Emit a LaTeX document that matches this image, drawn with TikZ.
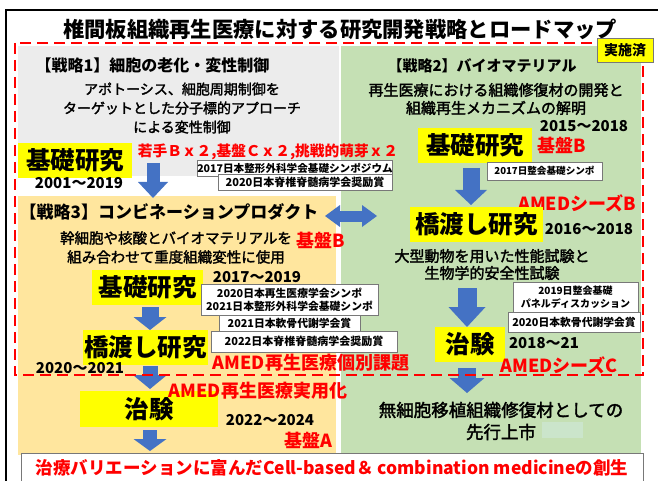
\documentclass[tikz,border=0pt]{standalone}
\usepackage{fontspec}
\setmainfont{Noto Sans CJK JP}
\newfontfamily\medfont{Noto Sans CJK JP}[FakeBold=2]
\usetikzlibrary{arrows.meta}
\definecolor{pgrey}{RGB}{236,236,236}
\definecolor{pgreen}{RGB}{197,224,180}
\definecolor{porange}{RGB}{255,230,158}
\definecolor{ayellow}{RGB}{255,255,0}
\definecolor{ablue}{RGB}{68,114,196}
\definecolor{ared}{RGB}{255,0,0}
\definecolor{bgrey}{RGB}{120,120,120}
\definecolor{fgreen}{RGB}{203,229,203}
\begin{document}
\begin{tikzpicture}[x=1pt,y=-1pt,
  txt/.style={inner sep=0pt,align=center,text=black},
  head/.style={txt,font=\bfseries\fontsize{#1}{#1}\selectfont},
  body/.style={txt,font=\medfont\fontsize{#1}{19}\selectfont},
  ybox/.style n args={2}{fill=ayellow,inner sep=0pt,minimum width=#1,minimum height=#2,font=\bfseries\fontsize{24.5}{26}\selectfont},
  year/.style={txt,font=\bfseries\fontsize{15}{16}\selectfont},
  rtxt/.style={inner sep=0pt,text=ared,font=\bfseries\fontsize{18}{20}\selectfont},
  award/.style n args={3}{draw=bgrey,line width=0.8pt,fill=white,inner sep=0pt,align=center,minimum width=#1,minimum height=#2,font=\bfseries\fontsize{#3}{13}\selectfont},
  barrow/.style n args={3}{draw=ablue,line width=#1,-{Triangle[width=#2,length=#3,line width=0pt]}},
  dbarrow/.style n args={3}{draw=ablue,line width=#1,{Triangle[width=#2,length=#3,line width=0pt]}-{Triangle[width=#2,length=#3,line width=0pt]}},
  reddash/.style={draw=ared,line width=2.5pt,dash pattern=on 11pt off 6pt}
]
\useasboundingbox (0,0) rectangle (658,481);
\fill[white] (0,0) rectangle (658,481);
% outer frame
\draw[line width=1.5pt] (6,490) -- (6,10) -- (662,10);
% panels
\fill[pgrey] (18,46) rectangle (339,176);
\fill[pgreen] (341,46) rectangle (641,455);
\fill[porange] (18,196) rectangle (336,455);
\fill[fgreen] (542,422) rectangle (583,438);

% arrows
\coordinate (a1s) at (153,163); \coordinate (a1e) at (153,198);
\coordinate (a2s) at (471,168); \coordinate (a2e) at (471,205);
\coordinate (a3s) at (467,288); \coordinate (a3e) at (467,327);
\coordinate (a4s) at (467,368); \coordinate (a4e) at (467,393);
\coordinate (a5s) at (150,307); \coordinate (a5e) at (150,330);
\coordinate (a6s) at (150,366); \coordinate (a6e) at (150,389);
\coordinate (a7s) at (150,430); \coordinate (a7e) at (150,451);
\coordinate (d1) at (325,216); \coordinate (d2) at (377,216);
\draw[barrow={13pt}{30pt}{16pt}] (a1s) -- (a1e);
\draw[barrow={17pt}{32pt}{15pt}] (a2s) -- (a2e);
\draw[barrow={19pt}{37pt}{20pt}] (a3s) -- (a3e);
\draw[barrow={18pt}{35pt}{15pt}] (a4s) -- (a4e);
\draw[barrow={17pt}{33pt}{13pt}] (a5s) -- (a5e);
\draw[barrow={15pt}{34pt}{14pt}] (a6s) -- (a6e);
\draw[barrow={14pt}{33pt}{12pt}] (a7s) -- (a7e);
\draw[dbarrow={11pt}{22pt}{15pt}] (d1) -- (d2);

% title
\node[head=21.3] (title) at (340,29) {椎間板組織再生医療に対する研究開発戦略とロードマップ};

% strategy 1
\node[head=16] (s1h) at (152.5,65) {【戦略1】細胞の老化・変性制御};
\node[body=14] (s1b) at (182,108) {アポトーシス、細胞周期制御を\\ターゲットとした分子標的アプローチ\\による変性制御};
\node[ybox={114}{35}] (s1k) at (75,160.5) {基礎研究};
\node[year] (s1y) at (79,183) {2001～2019};
\node[rtxt,font=\bfseries\fontsize{14.7}{16}\selectfont] (s1f) at (268,152) {若手Ｂｘ２,基盤Ｃｘ２,挑戦的萌芽ｘ２};
\node[award={194}{16}{10.6}] (awA) at (295,168) {2017日本整形外科学会基礎シンポジウム};
\node[award={174}{16}{11}] (awB) at (305,182) {2020日本脊椎脊髄病学会奨励賞};

% strategy 2
\node[head=15] (s2h) at (482,66) {【戦略2】バイオマテリアル};
\node[txt,font=\medfont\fontsize{15}{18}\selectfont] (s2b) at (496,99) {再生医療における組織修復材の開発と\\組織再生メカニズムの解明};
\node[year] (s2y1) at (584,126) {2015～2018};
\node[ybox={114}{35}] (s2k) at (475,145.5) {基礎研究};
\node[rtxt] (s2f1) at (562,145) {基盤B};
\node[award={115}{18}{9.6}] (awC) at (544.5,171) {2017日整会基礎シンポ};
\node[rtxt] (s2f2) at (577,203) {AMEDシーズB};
\node[ybox={133}{35}] (s2t) at (476.5,224.5) {橋渡し研究};
\node[year] (s2y2) at (589,229) {2016～2018};
\node[txt,font=\medfont\fontsize{15}{17}\selectfont] (s2b2) at (492,264.5) {大型動物を用いた性能試験と\\生物学的安全性試験};
\node[award={125}{30}{10}] (awF) at (575.5,297.5) {2019日整会基礎\\パネルディスカッション};
\node[award={132}{20}{10.8}] (awG) at (574,322) {2020日本軟骨代謝学会賞};
\node[ybox={70}{35}] (s2c) at (470,344.5) {治験};
\node[year] (s2y3) at (544,343) {2018～21};
\node[rtxt] (s2f3) at (559,365) {AMEDシーズC};
\node[txt,font=\medfont\fontsize{17.5}{22}\selectfont] (s2end) at (501,421) {無細胞移植組織修復材としての\\先行上市};

% strategy 3
\node[head=17] (s3h) at (169,212) {【戦略3】コンビネーションプロダクト};
\node[body=14.5] (s3b) at (176,247.5) {幹細胞や核酸とバイオマテリアルを\\組み合わせて重度組織変性に使用};
\node[rtxt] (s3f1) at (321,240) {基盤B};
\node[year] (s3y1) at (257,277) {2017～2019};
\node[ybox={111}{35}] (s3k) at (147.5,287.5) {基礎研究};
\node[award={177}{31}{10.8}] (awD) at (289.5,299.5) {2020日本再生医療学会シンポ\\2021日本整形外科学会基礎シンポ};
\node[award={141}{16}{10.8}] (awE) at (289.5,323) {2021日本軟骨代謝学会賞};
\node[award={186}{21}{11}] (awH) at (304,341.5) {2022日本脊椎脊髄病学会奨励賞};
\node[ybox={125}{35}] (s3t) at (145.5,347.5) {橋渡し研究};
\node[year] (s3y2) at (80,368) {2020～2021};
\node[rtxt] (s3f2) at (311,363) {AMED再生医療個別課題};
\node[ybox={138}{36}] (s3c) at (149,409) {治験};
\node[rtxt] (s3f3) at (258,391) {AMED再生医療実用化};
\node[year] (s3y3) at (270,420) {2022～2024};
\node[rtxt] (s3f4) at (308,440) {基盤A};

% goal box
\node[draw=bgrey,line width=0.8pt,fill=white,inner sep=0pt,minimum width=622,minimum height=30,text=ared,font=\bfseries\fontsize{17.5}{20}\selectfont] (goal) at (332,468) {治療バリエーションに富んだCell-based＆ combination medicineの創生};

% red dashed frame
\draw[reddash] (15,43) rectangle (643,375);
\node[draw=bgrey,line width=0.8pt,fill=ayellow,inner sep=0pt,minimum width=56,minimum height=24,font=\bfseries\fontsize{14}{15}\selectfont] (done) at (625,50) {実施済};
\end{tikzpicture}
\end{document}
